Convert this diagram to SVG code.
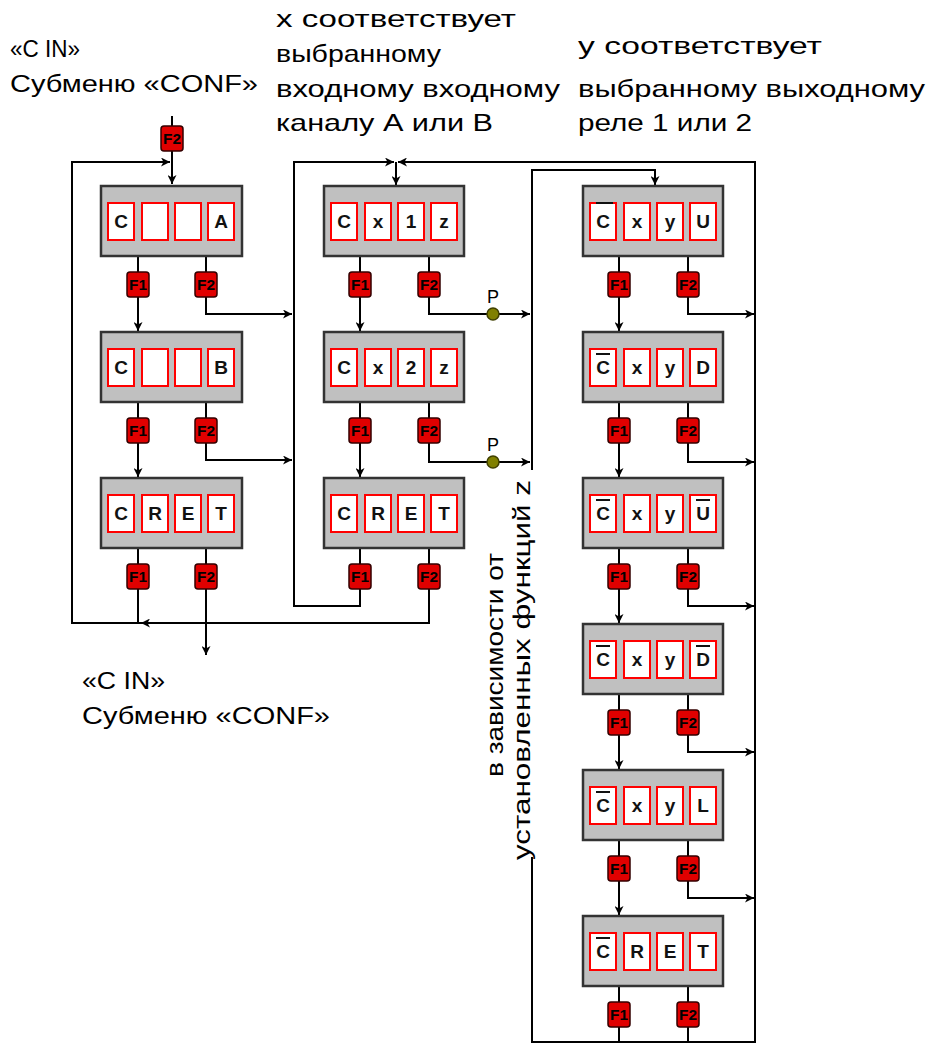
<svg xmlns="http://www.w3.org/2000/svg" width="935" height="1044" viewBox="0 0 935 1044">
<defs>
<marker id="ar" markerUnits="userSpaceOnUse" markerWidth="10" markerHeight="9" refX="9" refY="4.5" orient="auto">
<path d="M0,0 L9,4.5 L0,9 L2.5,4.5 z" fill="#000"/>
</marker>
</defs>
<style>
.lbl{font-family:"Liberation Sans",Arial,sans-serif;font-size:24px;fill:#000}
.box{fill:#c0c0c0;stroke:#333;stroke-width:2.5}
.cell{fill:#fff;stroke:#f00;stroke-width:2}
.ct{font-family:"Liberation Sans",Arial,sans-serif;font-size:19px;font-weight:bold;fill:#111;text-anchor:middle}
.bd{fill:#e00000;stroke:#300;stroke-width:1.5}
.bt{font-family:"Liberation Sans",Arial,sans-serif;font-size:15px;font-weight:bold;fill:#000;text-anchor:middle}
.ln{fill:none;stroke:#000;stroke-width:2}
.ov{stroke:#111;stroke-width:2}
.p{fill:#808000;stroke:#404000;stroke-width:1.5}
.pt{font-family:"Liberation Sans",Arial,sans-serif;font-size:18px;fill:#000;text-anchor:middle}
</style>
<rect width="935" height="1044" fill="#fff"/>

<g id="labels">
<text class="lbl" x="10" y="57" textLength="70" lengthAdjust="spacingAndGlyphs">«C IN»</text>
<text class="lbl" x="10" y="92" textLength="248" lengthAdjust="spacingAndGlyphs">Субменю «CONF»</text>
<text class="lbl" x="276" y="27" textLength="240" lengthAdjust="spacingAndGlyphs">x соответствует</text>
<text class="lbl" x="276" y="62" textLength="165" lengthAdjust="spacingAndGlyphs">выбранному</text>
<text class="lbl" x="276" y="97" textLength="284" lengthAdjust="spacingAndGlyphs">входному входному</text>
<text class="lbl" x="276" y="131" textLength="217" lengthAdjust="spacingAndGlyphs">каналу А или В</text>
<text class="lbl" x="578" y="54" textLength="244" lengthAdjust="spacingAndGlyphs">y соответствует</text>
<text class="lbl" x="578" y="97" textLength="347" lengthAdjust="spacingAndGlyphs">выбранному выходному</text>
<text class="lbl" x="578" y="131" textLength="174" lengthAdjust="spacingAndGlyphs">реле 1 или 2</text>
<text class="lbl" x="82" y="689" textLength="83" lengthAdjust="spacingAndGlyphs">«C IN»</text>
<text class="lbl" x="82" y="724" textLength="248" lengthAdjust="spacingAndGlyphs">Субменю «CONF»</text>
<text class="lbl" transform="translate(503,777) rotate(-90)" textLength="224" lengthAdjust="spacingAndGlyphs">в зависимости от</text>
<text class="lbl" transform="translate(530,860) rotate(-90)" textLength="380" lengthAdjust="spacingAndGlyphs">установленных функций z</text>
</g>

<g id="connectors">
<path class="ln" d="M172,116 V126"/>
<path class="ln" d="M172,150 V184" marker-end="url(#ar)"/>
<path class="ln" d="M143,623 H72 V162 H170" marker-end="url(#ar)"/>
<path class="ln" d="M138,256 V331" marker-end="url(#ar)"/>
<path class="ln" d="M206,256 V314 H292" marker-end="url(#ar)"/>
<path class="ln" d="M138,402 V477" marker-end="url(#ar)"/>
<path class="ln" d="M206,402 V460 H292" marker-end="url(#ar)"/>
<path class="ln" d="M138,548 V623"/>
<path class="ln" d="M206,548 V655" marker-end="url(#ar)"/>

<path class="ln" d="M360,548 V606 H294 V162 H394" marker-end="url(#ar)"/>
<path class="ln" d="M396,162 V185" marker-end="url(#ar)"/>
<path class="ln" d="M429,548 V623 H141" marker-end="url(#ar)"/>
<path class="ln" d="M360,256 V331" marker-end="url(#ar)"/>
<path class="ln" d="M429,256 V314 H530" marker-end="url(#ar)"/>
<path class="ln" d="M360,402 V477" marker-end="url(#ar)"/>
<path class="ln" d="M429,402 V462 H530" marker-end="url(#ar)"/>

<path class="ln" d="M532,470 V170 H655 V185" marker-end="url(#ar)"/>
<path class="ln" d="M532,857 V1042 H755 V162 H398" marker-end="url(#ar)"/>
<path class="ln" d="M619,256 V331" marker-end="url(#ar)"/>
<path class="ln" d="M688,256 V314 H754" marker-end="url(#ar)"/>
<path class="ln" d="M619,402 V477" marker-end="url(#ar)"/>
<path class="ln" d="M688,402 V462 H754" marker-end="url(#ar)"/>
<path class="ln" d="M619,548 V623" marker-end="url(#ar)"/>
<path class="ln" d="M688,548 V606 H754" marker-end="url(#ar)"/>
<path class="ln" d="M619,694 V769" marker-end="url(#ar)"/>
<path class="ln" d="M688,694 V752 H754" marker-end="url(#ar)"/>
<path class="ln" d="M619,840 V915" marker-end="url(#ar)"/>
<path class="ln" d="M688,840 V898 H754" marker-end="url(#ar)"/>
<path class="ln" d="M619,986 V1042"/>
<path class="ln" d="M688,986 V1042"/>

<circle class="p" cx="493" cy="314" r="6"/>
<text class="pt" x="493" y="303">P</text>
<circle class="p" cx="493" cy="462" r="6"/>
<text class="pt" x="493" y="451">P</text>
</g>

<g id="entry-key">
<rect class="bd" x="161" y="126" width="22" height="25" rx="3"/><text class="bt" x="172" y="144" textLength="18" lengthAdjust="spacingAndGlyphs">F2</text>
</g>

<!-- Column 1 -->
<g id="c1b1">
<rect class="box" x="101" y="186" width="141" height="70"/>
<rect class="cell" x="108" y="203" width="26" height="37"/><rect class="cell" x="142" y="203" width="26" height="37"/><rect class="cell" x="175" y="203" width="26" height="37"/><rect class="cell" x="208" y="203" width="26" height="37"/>
<text class="ct" x="121" y="228">C</text><text class="ct" x="221" y="228">A</text>
<rect class="bd" x="127" y="272" width="22" height="25" rx="3"/><text class="bt" x="138" y="290" textLength="18" lengthAdjust="spacingAndGlyphs">F1</text>
<rect class="bd" x="195" y="272" width="22" height="25" rx="3"/><text class="bt" x="206" y="290" textLength="18" lengthAdjust="spacingAndGlyphs">F2</text>
</g>
<g id="c1b2">
<rect class="box" x="101" y="332" width="141" height="70"/>
<rect class="cell" x="108" y="349" width="26" height="37"/><rect class="cell" x="142" y="349" width="26" height="37"/><rect class="cell" x="175" y="349" width="26" height="37"/><rect class="cell" x="208" y="349" width="26" height="37"/>
<text class="ct" x="121" y="374">C</text><text class="ct" x="221" y="374">B</text>
<rect class="bd" x="127" y="418" width="22" height="25" rx="3"/><text class="bt" x="138" y="436" textLength="18" lengthAdjust="spacingAndGlyphs">F1</text>
<rect class="bd" x="195" y="418" width="22" height="25" rx="3"/><text class="bt" x="206" y="436" textLength="18" lengthAdjust="spacingAndGlyphs">F2</text>
</g>
<g id="c1b3">
<rect class="box" x="101" y="478" width="141" height="70"/>
<rect class="cell" x="108" y="495" width="26" height="37"/><rect class="cell" x="142" y="495" width="26" height="37"/><rect class="cell" x="175" y="495" width="26" height="37"/><rect class="cell" x="208" y="495" width="26" height="37"/>
<text class="ct" x="121" y="520">C</text><text class="ct" x="155" y="520">R</text><text class="ct" x="188" y="520">E</text><text class="ct" x="221" y="520">T</text>
<rect class="bd" x="127" y="564" width="22" height="25" rx="3"/><text class="bt" x="138" y="582" textLength="18" lengthAdjust="spacingAndGlyphs">F1</text>
<rect class="bd" x="195" y="564" width="22" height="25" rx="3"/><text class="bt" x="206" y="582" textLength="18" lengthAdjust="spacingAndGlyphs">F2</text>
</g>

<!-- Column 2 -->
<g id="c2b1">
<rect class="box" x="324" y="186" width="140" height="70"/>
<rect class="cell" x="331" y="203" width="26" height="37"/><rect class="cell" x="365" y="203" width="26" height="37"/><rect class="cell" x="398" y="203" width="26" height="37"/><rect class="cell" x="431" y="203" width="26" height="37"/>
<text class="ct" x="344" y="228">C</text><text class="ct" x="378" y="228">x</text><text class="ct" x="411" y="228">1</text><text class="ct" x="444" y="228">z</text>
<rect class="bd" x="349" y="272" width="22" height="25" rx="3"/><text class="bt" x="360" y="290" textLength="18" lengthAdjust="spacingAndGlyphs">F1</text>
<rect class="bd" x="418" y="272" width="22" height="25" rx="3"/><text class="bt" x="429" y="290" textLength="18" lengthAdjust="spacingAndGlyphs">F2</text>
</g>
<g id="c2b2">
<rect class="box" x="324" y="332" width="140" height="70"/>
<rect class="cell" x="331" y="349" width="26" height="37"/><rect class="cell" x="365" y="349" width="26" height="37"/><rect class="cell" x="398" y="349" width="26" height="37"/><rect class="cell" x="431" y="349" width="26" height="37"/>
<text class="ct" x="344" y="374">C</text><text class="ct" x="378" y="374">x</text><text class="ct" x="411" y="374">2</text><text class="ct" x="444" y="374">z</text>
<rect class="bd" x="349" y="418" width="22" height="25" rx="3"/><text class="bt" x="360" y="436" textLength="18" lengthAdjust="spacingAndGlyphs">F1</text>
<rect class="bd" x="418" y="418" width="22" height="25" rx="3"/><text class="bt" x="429" y="436" textLength="18" lengthAdjust="spacingAndGlyphs">F2</text>
</g>
<g id="c2b3">
<rect class="box" x="324" y="478" width="140" height="70"/>
<rect class="cell" x="331" y="495" width="26" height="37"/><rect class="cell" x="365" y="495" width="26" height="37"/><rect class="cell" x="398" y="495" width="26" height="37"/><rect class="cell" x="431" y="495" width="26" height="37"/>
<text class="ct" x="344" y="520">C</text><text class="ct" x="378" y="520">R</text><text class="ct" x="411" y="520">E</text><text class="ct" x="444" y="520">T</text>
<rect class="bd" x="349" y="564" width="22" height="25" rx="3"/><text class="bt" x="360" y="582" textLength="18" lengthAdjust="spacingAndGlyphs">F1</text>
<rect class="bd" x="418" y="564" width="22" height="25" rx="3"/><text class="bt" x="429" y="582" textLength="18" lengthAdjust="spacingAndGlyphs">F2</text>
</g>

<!-- Column 3 -->
<g id="c3b1">
<rect class="box" x="583" y="186" width="140" height="70"/>
<rect class="cell" x="590" y="203" width="26" height="37"/><rect class="cell" x="624" y="203" width="26" height="37"/><rect class="cell" x="657" y="203" width="26" height="37"/><rect class="cell" x="690" y="203" width="26" height="37"/>
<text class="ct" x="603" y="228">C</text><line class="ov" x1="596" y1="203" x2="613" y2="203"/>
<text class="ct" x="637" y="228">x</text><text class="ct" x="670" y="228">y</text><text class="ct" x="703" y="228">U</text>
<rect class="bd" x="608" y="272" width="22" height="25" rx="3"/><text class="bt" x="619" y="290" textLength="18" lengthAdjust="spacingAndGlyphs">F1</text>
<rect class="bd" x="677" y="272" width="22" height="25" rx="3"/><text class="bt" x="688" y="290" textLength="18" lengthAdjust="spacingAndGlyphs">F2</text>
</g>
<g id="c3b2">
<rect class="box" x="583" y="332" width="140" height="70"/>
<rect class="cell" x="590" y="349" width="26" height="37"/><rect class="cell" x="624" y="349" width="26" height="37"/><rect class="cell" x="657" y="349" width="26" height="37"/><rect class="cell" x="690" y="349" width="26" height="37"/>
<text class="ct" x="603" y="374">C</text><line class="ov" x1="596" y1="354" x2="610" y2="354"/>
<text class="ct" x="637" y="374">x</text><text class="ct" x="670" y="374">y</text><text class="ct" x="703" y="374">D</text>
<rect class="bd" x="608" y="418" width="22" height="25" rx="3"/><text class="bt" x="619" y="436" textLength="18" lengthAdjust="spacingAndGlyphs">F1</text>
<rect class="bd" x="677" y="418" width="22" height="25" rx="3"/><text class="bt" x="688" y="436" textLength="18" lengthAdjust="spacingAndGlyphs">F2</text>
</g>
<g id="c3b3">
<rect class="box" x="583" y="478" width="140" height="70"/>
<rect class="cell" x="590" y="495" width="26" height="37"/><rect class="cell" x="624" y="495" width="26" height="37"/><rect class="cell" x="657" y="495" width="26" height="37"/><rect class="cell" x="690" y="495" width="26" height="37"/>
<text class="ct" x="603" y="520">C</text><line class="ov" x1="596" y1="500" x2="610" y2="500"/>
<text class="ct" x="637" y="520">x</text><text class="ct" x="670" y="520">y</text><text class="ct" x="703" y="520">U</text><line class="ov" x1="696" y1="500" x2="710" y2="500"/>
<rect class="bd" x="608" y="564" width="22" height="25" rx="3"/><text class="bt" x="619" y="582" textLength="18" lengthAdjust="spacingAndGlyphs">F1</text>
<rect class="bd" x="677" y="564" width="22" height="25" rx="3"/><text class="bt" x="688" y="582" textLength="18" lengthAdjust="spacingAndGlyphs">F2</text>
</g>
<g id="c3b4">
<rect class="box" x="583" y="624" width="140" height="70"/>
<rect class="cell" x="590" y="641" width="26" height="37"/><rect class="cell" x="624" y="641" width="26" height="37"/><rect class="cell" x="657" y="641" width="26" height="37"/><rect class="cell" x="690" y="641" width="26" height="37"/>
<text class="ct" x="603" y="666">C</text><line class="ov" x1="596" y1="646" x2="610" y2="646"/>
<text class="ct" x="637" y="666">x</text><text class="ct" x="670" y="666">y</text><text class="ct" x="703" y="666">D</text><line class="ov" x1="696" y1="646" x2="710" y2="646"/>
<rect class="bd" x="608" y="710" width="22" height="25" rx="3"/><text class="bt" x="619" y="728" textLength="18" lengthAdjust="spacingAndGlyphs">F1</text>
<rect class="bd" x="677" y="710" width="22" height="25" rx="3"/><text class="bt" x="688" y="728" textLength="18" lengthAdjust="spacingAndGlyphs">F2</text>
</g>
<g id="c3b5">
<rect class="box" x="583" y="770" width="140" height="70"/>
<rect class="cell" x="590" y="787" width="26" height="37"/><rect class="cell" x="624" y="787" width="26" height="37"/><rect class="cell" x="657" y="787" width="26" height="37"/><rect class="cell" x="690" y="787" width="26" height="37"/>
<text class="ct" x="603" y="812">C</text><line class="ov" x1="596" y1="792" x2="610" y2="792"/>
<text class="ct" x="637" y="812">x</text><text class="ct" x="670" y="812">y</text><text class="ct" x="703" y="812">L</text>
<rect class="bd" x="608" y="856" width="22" height="25" rx="3"/><text class="bt" x="619" y="874" textLength="18" lengthAdjust="spacingAndGlyphs">F1</text>
<rect class="bd" x="677" y="856" width="22" height="25" rx="3"/><text class="bt" x="688" y="874" textLength="18" lengthAdjust="spacingAndGlyphs">F2</text>
</g>
<g id="c3b6">
<rect class="box" x="583" y="916" width="140" height="70"/>
<rect class="cell" x="590" y="933" width="26" height="37"/><rect class="cell" x="624" y="933" width="26" height="37"/><rect class="cell" x="657" y="933" width="26" height="37"/><rect class="cell" x="690" y="933" width="26" height="37"/>
<text class="ct" x="603" y="958">C</text><line class="ov" x1="596" y1="938" x2="610" y2="938"/>
<text class="ct" x="637" y="958">R</text><text class="ct" x="670" y="958">E</text><text class="ct" x="703" y="958">T</text>
<rect class="bd" x="608" y="1002" width="22" height="25" rx="3"/><text class="bt" x="619" y="1020" textLength="18" lengthAdjust="spacingAndGlyphs">F1</text>
<rect class="bd" x="677" y="1002" width="22" height="25" rx="3"/><text class="bt" x="688" y="1020" textLength="18" lengthAdjust="spacingAndGlyphs">F2</text>
</g>
</svg>
